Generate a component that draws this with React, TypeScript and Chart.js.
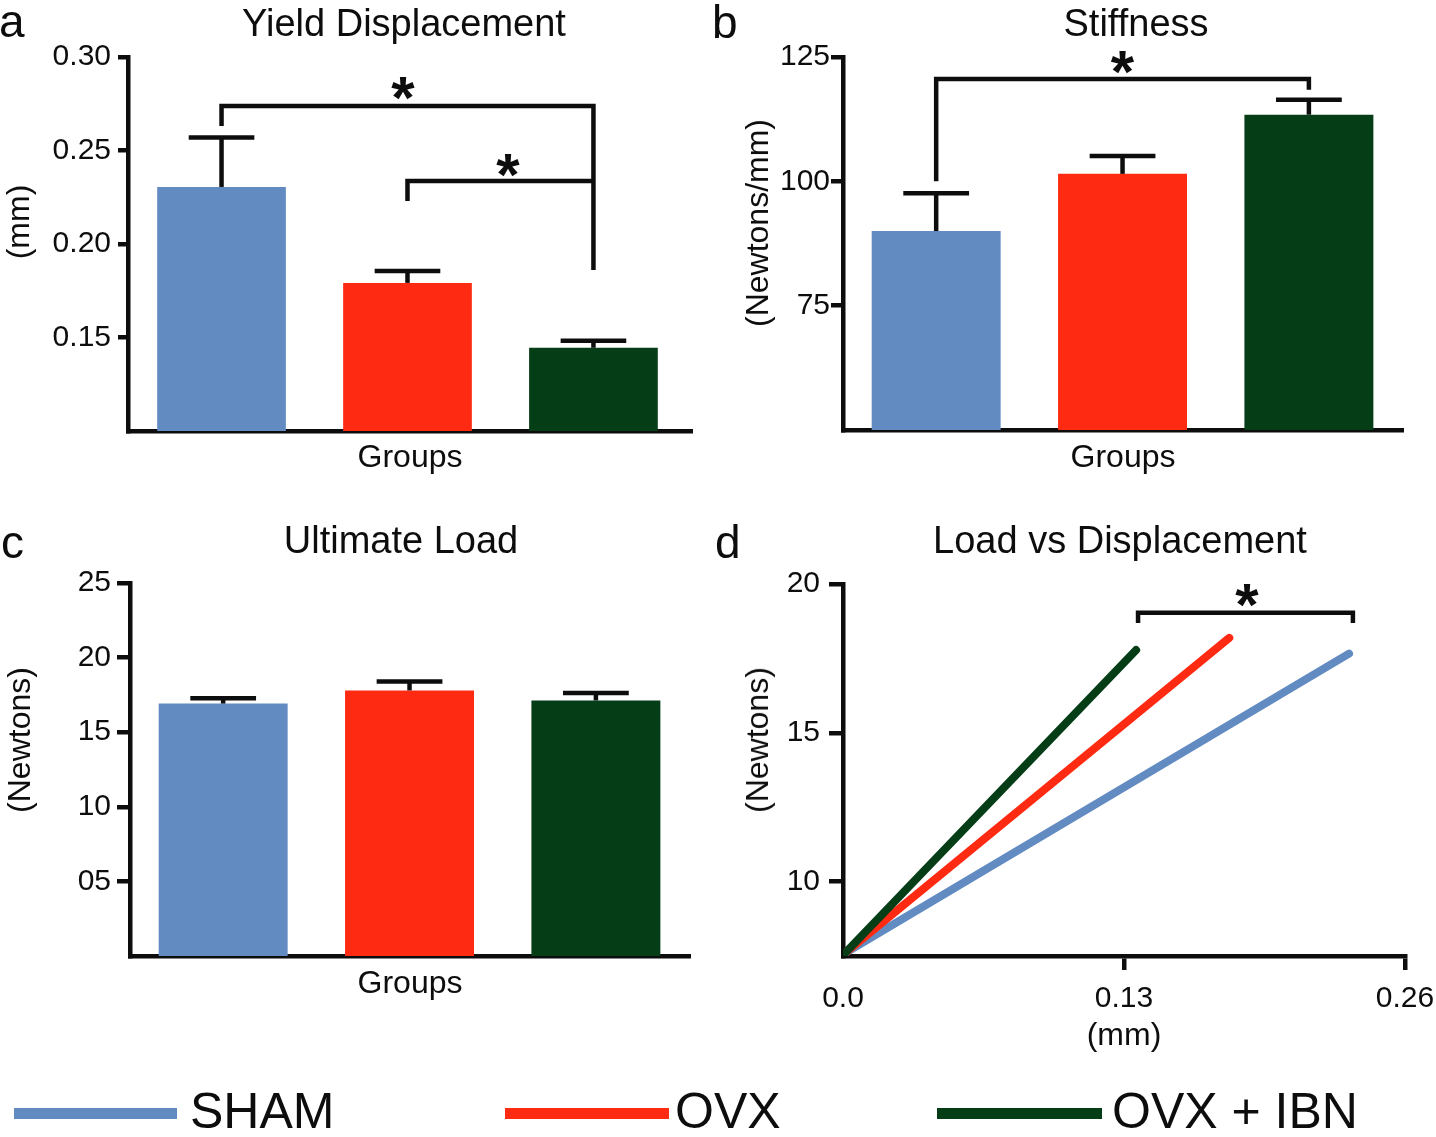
import React, { useEffect, useRef } from 'react';
import { Chart, registerables } from 'chart.js';

Chart.register(...registerables);

const FONT = '"Liberation Sans", Arial, Helvetica, sans-serif';
const INK = '#0d0d0d';
Chart.defaults.font.family = FONT;
Chart.defaults.color = INK;

// ---------- shared ----------
const groups = ['SHAM', 'OVX', 'OVX + IBN'];
const groupColors = ['#628bc2', '#ff2a12', '#053d17'];
const groupPositions = [1, 2, 3];

// ---------- a: Yield Displacement (mm) ----------
const yieldMean = [0.2305, 0.1792, 0.1445];
const yieldSem = [0.0264, 0.0064, 0.0037];
const yieldTicks = [0.15, 0.2, 0.25, 0.3];
const yieldTickLabels = ['0.15', '0.20', '0.25', '0.30'];
const yieldBrackets = [
  { from: 1, to: 3, y: 0.2738, fromEnd: 0.2631, toEnd: 0.1861, starX: 1.976, starY: 0.2834 },
  { from: 2, to: 3, y: 0.2337, fromEnd: 0.223, toEnd: 0.2337, starX: 2.54, starY: 0.2422 },
];

// ---------- b: Stiffness (Newtons/mm) ----------
const stiffMean = [90.0, 101.5, 113.4];
const stiffSem = [7.6, 3.6, 3.0];
const stiffTicks = [75, 100, 125];
const stiffTickLabels = ['75', '100', '125'];
const stiffBrackets = [
  { from: 1, to: 3, y: 120.6, fromEnd: 100, toEnd: 118.4, starX: 2.0, starY: 123.8 },
];

// ---------- c: Ultimate Load (Newtons) ----------
const loadMean = [16.92, 17.8, 17.13];
const loadSem = [0.36, 0.6, 0.5];
const loadTicks = [5, 10, 15, 20, 25];
const loadTickLabels = ['05', '10', '15', '20', '25'];

// ---------- d: Load vs Displacement ----------
const shamDisp = [0.001, 0.2341];
const shamLoad = [7.6, 17.66];
const ovxDisp = [0.001, 0.1787];
const ovxLoad = [7.6, 18.19];
const ibnDisp = [0.001, 0.1356];
const ibnLoad = [7.6, 17.78];
const dispTicks = [0, 0.13, 0.26];
const dispTickLabels = ['0.0', '0.13', '0.26'];
const lvdTicks = [10, 15, 20];
const lvdTickLabels = ['10', '15', '20'];
const lvdBrackets = [
  { from: 0.1365, to: 0.2359, y: 19.03, fromEnd: 18.69, toEnd: 18.69, starX: 0.1869, starY: 19.63 },
];

type Bracket = { from: number; to: number; y: number; fromEnd: number; toEnd: number; starX: number; starY: number };

function makeAnnot(means: number[] | null, sems: number[] | null, brackets: Bracket[]) {
  return {
    id: 'annot',
    afterDatasetsDraw(chart: any) {
      const ctx = chart.ctx;
      const xs = chart.scales.x;
      const ys = chart.scales.y;
      ctx.save();
      ctx.strokeStyle = INK;
      ctx.fillStyle = INK;
      ctx.lineWidth = 4.5;
      ctx.lineCap = 'butt';
      ctx.lineJoin = 'miter';
      if (means && sems) {
        const meta = chart.getDatasetMeta(0);
        meta.data.forEach((bar: any, i: number) => {
          const p = bar.getProps(['x', 'y', 'width'], true);
          const top = ys.getPixelForValue(means[i] + sems[i]);
          const half = p.width * 0.255;
          ctx.beginPath();
          ctx.moveTo(p.x, p.y);
          ctx.lineTo(p.x, top);
          ctx.stroke();
          ctx.beginPath();
          ctx.moveTo(p.x - half, top);
          ctx.lineTo(p.x + half, top);
          ctx.stroke();
        });
      }
      brackets.forEach((b) => {
        const x1 = xs.getPixelForValue(b.from);
        const x2 = xs.getPixelForValue(b.to);
        const y = ys.getPixelForValue(b.y);
        ctx.beginPath();
        ctx.moveTo(x1, ys.getPixelForValue(b.fromEnd));
        ctx.lineTo(x1, y);
        ctx.lineTo(x2, y);
        ctx.lineTo(x2, ys.getPixelForValue(b.toEnd));
        ctx.stroke();
        ctx.font = `bold 60px ${FONT}`;
        ctx.textAlign = 'center';
        ctx.textBaseline = 'alphabetic';
        const m = ctx.measureText('*');
        const asc = m.actualBoundingBoxAscent || 42;
        const desc = m.actualBoundingBoxDescent || -22;
        const cy = ys.getPixelForValue(b.starY);
        ctx.fillText('*', xs.getPixelForValue(b.starX), cy + (asc - desc) / 2);
      });
      ctx.restore();
    },
  };
}

function yAxis(min: number, max: number, ticks: number[], labels: string[], width: number, tickLength: number, padding: number) {
  return {
    type: 'linear',
    min,
    max,
    beginAtZero: false,
    afterBuildTicks: (s: any) => {
      s.ticks = ticks.map((v) => ({ value: v }));
    },
    afterFit: (s: any) => {
      s.width = width;
    },
    grid: { display: true, drawOnChartArea: false, drawTicks: true, tickLength, color: INK, lineWidth: 4.5 },
    border: { display: true, color: INK, width: 4.5 },
    ticks: {
      autoSkip: false,
      padding,
      color: INK,
      font: { size: 30 },
      callback: (_v: any, i: number) => labels[i],
    },
    title: { display: false },
  };
}

type BarPanel = {
  means: number[];
  sems: number[];
  yMin: number;
  yMax: number;
  ticks: number[];
  labels: string[];
  xMin: number;
  xMax: number;
  padding: any;
  yWidth: number;
  xHeight: number;
  tickLength: number;
  tickPadding: number;
  brackets: Bracket[];
};

function barConfig(p: BarPanel) {
  return {
    type: 'bar',
    data: {
      datasets: [
        {
          label: 'Groups',
          data: p.means.map((m, i) => ({ x: groupPositions[i], y: m })),
          backgroundColor: groupColors,
          borderWidth: 0,
          barPercentage: 0.692,
          categoryPercentage: 1,
        },
      ],
    },
    options: {
      responsive: false,
      animation: false,
      devicePixelRatio: 1,
      events: [],
      layout: { padding: p.padding },
      plugins: { legend: { display: false }, tooltip: { enabled: false }, title: { display: false } },
      scales: {
        x: {
          type: 'linear',
          min: p.xMin,
          max: p.xMax,
          offset: false,
          afterBuildTicks: (s: any) => {
            s.ticks = groupPositions.map((v) => ({ value: v }));
          },
          afterFit: (s: any) => {
            s.height = p.xHeight;
            s.paddingLeft = 0;
            s.paddingRight = 0;
          },
          grid: { display: false, offset: false },
          border: { display: true, color: INK, width: 4.5 },
          ticks: { display: false },
          title: { display: true, text: 'Groups', color: INK, font: { size: 32 }, padding: 0 },
        },
        y: yAxis(p.yMin, p.yMax, p.ticks, p.labels, p.yWidth, p.tickLength, p.tickPadding),
      },
    },
    plugins: [makeAnnot(p.means, p.sems, p.brackets)],
  };
}

function lineConfig() {
  const series = [
    { label: groups[0], xs: shamDisp, ys: shamLoad, color: groupColors[0], order: 2 },
    { label: groups[1], xs: ovxDisp, ys: ovxLoad, color: groupColors[1], order: 1 },
    { label: groups[2], xs: ibnDisp, ys: ibnLoad, color: groupColors[2], order: 0 },
  ];
  return {
    type: 'scatter',
    data: {
      datasets: series.map((s) => ({
        label: s.label,
        data: s.xs.map((x, i) => ({ x, y: s.ys[i] })),
        showLine: true,
        borderColor: s.color,
        backgroundColor: s.color,
        borderWidth: 8,
        borderCapStyle: 'round',
        pointRadius: 0,
        order: s.order,
      })),
    },
    options: {
      responsive: false,
      animation: false,
      devicePixelRatio: 1,
      events: [],
      layout: { padding: { top: 74, left: 0, right: 31, bottom: 15 } },
      plugins: { legend: { display: false }, tooltip: { enabled: false }, title: { display: false } },
      scales: {
        x: {
          type: 'linear',
          min: 0,
          max: 0.26,
          afterBuildTicks: (s: any) => {
            s.ticks = dispTicks.map((v) => ({ value: v }));
          },
          afterFit: (s: any) => {
            s.height = 99;
            s.paddingLeft = 0;
            s.paddingRight = 0;
          },
          grid: {
            display: true,
            drawOnChartArea: false,
            drawTicks: true,
            tickLength: 14,
            lineWidth: 4.5,
            color: INK,
            tickColor: (c: any) => (c.tick && c.tick.value === 0 ? 'rgba(0,0,0,0)' : INK),
          },
          border: { display: true, color: INK, width: 4.5 },
          ticks: {
            autoSkip: false,
            maxRotation: 0,
            minRotation: 0,
            padding: 10.5,
            color: INK,
            font: { size: 30 },
            callback: (_v: any, i: number) => dispTickLabels[i],
          },
          title: { display: true, text: '(mm)', color: INK, font: { size: 32 }, padding: 0 },
        },
        y: yAxis(7.5, 20, lvdTicks, lvdTickLabels, 125, 14, 9),
      },
    },
    plugins: [makeAnnot(null, null, lvdBrackets)],
  };
}

function ChartCanvas({ config, left, top, width, height }: any) {
  const ref = useRef<HTMLCanvasElement | null>(null);
  useEffect(() => {
    if (!ref.current) return;
    const chart = new Chart(ref.current, config);
    return () => chart.destroy();
  }, []);
  return (
    <canvas
      ref={ref}
      width={width}
      height={height}
      style={{ position: 'absolute', left, top, width, height }}
    />
  );
}

function Label({ text, x, baseline, size, center }: any) {
  return (
    <div
      style={{
        position: 'absolute',
        left: x,
        top: baseline - 0.8465 * size,
        fontSize: size,
        lineHeight: `${size}px`,
        fontFamily: FONT,
        color: INK,
        whiteSpace: 'nowrap',
        transform: center ? 'translateX(-50%)' : undefined,
      }}
    >
      {text}
    </div>
  );
}

function VLabel({ text, cx, cy, size }: any) {
  return (
    <div
      style={{
        position: 'absolute',
        left: cx,
        top: cy,
        fontSize: size,
        lineHeight: `${size}px`,
        fontFamily: FONT,
        color: INK,
        whiteSpace: 'nowrap',
        transform: 'translate(-50%, -50%) rotate(-90deg)',
      }}
    >
      {text}
    </div>
  );
}

const panelA = barConfig({
  means: yieldMean, sems: yieldSem, yMin: 0.1, yMax: 0.3, ticks: yieldTicks, labels: yieldTickLabels,
  xMin: 0.497, xMax: 3.53, padding: { top: 57, left: 0, right: 26, bottom: 3 }, yWidth: 128, xHeight: 46,
  tickLength: 10, tickPadding: 7, brackets: yieldBrackets,
});
const panelB = barConfig({
  means: stiffMean, sems: stiffSem, yMin: 50, yMax: 125, ticks: stiffTicks, labels: stiffTickLabels,
  xMin: 0.5, xMax: 3.505, padding: { top: 57, left: 0, right: 33, bottom: 3 }, yWidth: 125, xHeight: 47,
  tickLength: 12, tickPadding: 1, brackets: stiffBrackets,
});
const panelC = barConfig({
  means: loadMean, sems: loadSem, yMin: 0, yMax: 25, ticks: loadTicks, labels: loadTickLabels,
  xMin: 0.5, xMax: 3.505, padding: { top: 73, left: 0, right: 28, bottom: 67 }, yWidth: 130, xHeight: 47,
  tickLength: 13, tickPadding: 6, brackets: [],
});
const panelD = lineConfig();

const legendItems = [
  { lineX: 14, lineW: 163, textX: 190 },
  { lineX: 505, lineW: 164, textX: 675 },
  { lineX: 937, lineW: 165, textX: 1112 },
];

export default function App() {
  return (
    <div style={{ position: 'absolute', left: 0, top: 0, width: 1436, height: 1137, background: '#fff', overflow: 'hidden' }}>
      <ChartCanvas config={panelA} left={0} top={0} width={718} height={480} />
      <ChartCanvas config={panelB} left={718} top={0} width={718} height={480} />
      <ChartCanvas config={panelC} left={0} top={510} width={718} height={560} />
      <ChartCanvas config={panelD} left={718} top={510} width={718} height={560} />

      <Label text="a" x={-1} baseline={37} size={46} />
      <Label text="b" x={712} baseline={38} size={46} />
      <Label text="c" x={1} baseline={558} size={46} />
      <Label text="d" x={715} baseline={558} size={46} />

      <Label text="Yield Displacement" x={404} baseline={36} size={38} center />
      <Label text="Stiffness" x={1136} baseline={36} size={38} center />
      <Label text="Ultimate Load" x={401} baseline={553} size={38} center />
      <Label text="Load vs Displacement" x={1120} baseline={553} size={38} center />

      <VLabel text="(mm)" cx={18} cy={222} size={32} />
      <VLabel text="(Newtons/mm)" cx={757} cy={223} size={32} />
      <VLabel text="(Newtons)" cx={19} cy={740} size={32} />
      <VLabel text="(Newtons)" cx={757} cy={740} size={32} />

      {legendItems.map((it, i) => (
        <React.Fragment key={groups[i]}>
          <div
            style={{
              position: 'absolute',
              left: it.lineX,
              top: 1107.5,
              width: it.lineW,
              height: 11,
              background: groupColors[i],
            }}
          />
          <Label text={groups[i]} x={it.textX} baseline={1128} size={50} />
        </React.Fragment>
      ))}
    </div>
  );
}
